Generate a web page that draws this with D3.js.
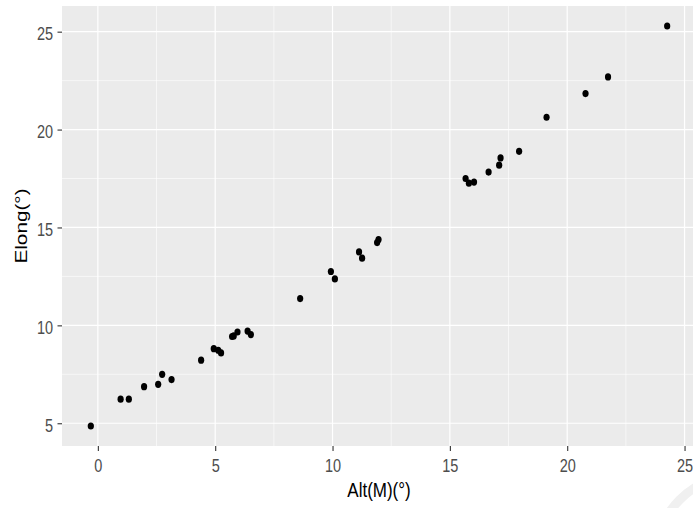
<!DOCTYPE html>
<html>
<head>
<meta charset="utf-8">
<script src="https://cdn.jsdelivr.net/npm/d3@7"></script>
<style>
    body { margin: 0; background: #ffffff; }
    text { font-family: "Liberation Sans", Arial, sans-serif; }
</style>
</head>
<body>
<div id="content"></div>
<script>
/*
    Data: altitude of the moon vs elongation
*/
var altM = [-0.30, 0.97, 1.32, 1.97, 2.57, 2.74, 3.14, 4.40, 4.94, 5.13,
            5.25, 5.72, 5.79, 5.95, 6.38, 6.52, 8.62, 9.93, 10.10, 11.13,
            11.26, 11.90, 11.96, 15.67, 15.81, 16.03, 16.65, 17.10, 17.16, 17.95,
            19.12, 20.78, 21.74, 24.26];
var elong = [4.86, 6.23, 6.23, 6.87, 6.99, 7.50, 7.23, 8.22, 8.81, 8.73,
             8.59, 9.43, 9.46, 9.66, 9.71, 9.53, 11.37, 12.75, 12.37, 13.75,
             13.43, 14.23, 14.38, 17.50, 17.26, 17.32, 17.83, 18.18, 18.55, 18.89,
             20.63, 21.84, 22.69, 25.29];
var xTicks = [0, 5, 10, 15, 20, 25];
var yTicks = [5, 10, 15, 20, 25];
var xMinor = [2.5, 7.5, 12.5, 17.5, 22.5];
var yMinor = [7.5, 12.5, 17.5, 22.5];
var xTitle = "Alt(M)(°)",
    yTitle = "Elong(°)";
/*
    Dimensions (the screenshot is stretched vertically, so text gets a yStretch)
*/
var realW = 693, realH = 508,
    margin = { top: 6, right: -3, bottom: 62, left: 62 },
    yStretch = 1.22;

var dataset = altM.map(function (d, i) { return [d, elong[i]]; });

/*
    ggplot style 5% expansion on both scales
*/
function expand(ext) {
    var pad = (ext[1] - ext[0]) * 0.05;
    return [ext[0] - pad, ext[1] + pad];
}

var xScale = d3.scaleLinear()
    .domain(expand(d3.extent(altM)))
    .range([margin.left, realW - margin.right]);

var yScale = d3.scaleLinear()
    .domain(expand(d3.extent(elong)))
    .range([realH - margin.bottom, margin.top]);

var svg = d3.select("#content")
    .append("svg")
    .attr("width", realW)
    .attr("height", realH);

svg.append("rect")
    .attr("width", realW)
    .attr("height", realH)
    .style("fill", "#ffffff");

/*
    Faint watermark arc in the bottom right corner
*/
svg.append("circle")
    .attr("cx", 742)
    .attr("cy", 562)
    .attr("r", 88)
    .style("fill", "none")
    .style("stroke", "#f0f0f0")
    .style("stroke-width", 9);

/*
    Panel background and grid
*/
var panel = svg.append("g").attr("id", "panel");

panel.append("rect")
    .attr("x", xScale.range()[0])
    .attr("y", yScale.range()[1])
    .attr("width", xScale.range()[1] - xScale.range()[0])
    .attr("height", yScale.range()[0] - yScale.range()[1])
    .style("fill", "#ebebeb");

panel.selectAll(".xminor")
    .data(xMinor)
    .enter()
    .append("line")
    .attr("x1", function (d) { return xScale(d); })
    .attr("x2", function (d) { return xScale(d); })
    .attr("y1", yScale.range()[0])
    .attr("y2", yScale.range()[1])
    .style("stroke", "#ffffff")
    .style("stroke-width", 0.6);

panel.selectAll(".yminor")
    .data(yMinor)
    .enter()
    .append("line")
    .attr("x1", xScale.range()[0])
    .attr("x2", xScale.range()[1])
    .attr("y1", function (d) { return yScale(d); })
    .attr("y2", function (d) { return yScale(d); })
    .style("stroke", "#ffffff")
    .style("stroke-width", 0.6);

panel.selectAll(".xmajor")
    .data(xTicks)
    .enter()
    .append("line")
    .attr("x1", function (d) { return xScale(d); })
    .attr("x2", function (d) { return xScale(d); })
    .attr("y1", yScale.range()[0])
    .attr("y2", yScale.range()[1])
    .style("stroke", "#ffffff")
    .style("stroke-width", 1.2);

panel.selectAll(".ymajor")
    .data(yTicks)
    .enter()
    .append("line")
    .attr("x1", xScale.range()[0])
    .attr("x2", xScale.range()[1])
    .attr("y1", function (d) { return yScale(d); })
    .attr("y2", function (d) { return yScale(d); })
    .style("stroke", "#ffffff")
    .style("stroke-width", 1.2);

/*
    Points
*/
svg.append("g")
    .attr("id", "points")
    .selectAll("ellipse")
    .data(dataset)
    .enter()
    .append("ellipse")
    .attr("cx", function (d) { return xScale(d[0]); })
    .attr("cy", function (d) { return yScale(d[1]); })
    .attr("rx", 3.1)
    .attr("ry", 3.6)
    .style("fill", "#000000");

/*
    Axes: d3 axes for the tick marks, labels restyled to look like ggplot
*/
var xAxis = d3.axisBottom(xScale)
    .tickValues(xTicks)
    .tickSize(5)
    .tickPadding(0)
    .tickFormat(d3.format("d"));

var yAxis = d3.axisLeft(yScale)
    .tickValues(yTicks)
    .tickSize(4.5)
    .tickPadding(0)
    .tickFormat(d3.format("d"));

var gx = svg.append("g")
    .attr("id", "xAxis")
    .attr("transform", "translate(0," + yScale.range()[0] + ")")
    .call(xAxis);

var gy = svg.append("g")
    .attr("id", "yAxis")
    .attr("transform", "translate(" + xScale.range()[0] + ",0)")
    .call(yAxis);

[gx, gy].forEach(function (g) {
    g.select(".domain").remove();
    g.selectAll(".tick line")
        .style("stroke", "#333333")
        .style("stroke-width", 1.1);
    g.selectAll(".tick text")
        .attr("font-size", 14.5)
        .attr("font-family", null)
        .style("fill", "#4d4d4d");
});

gx.selectAll(".tick text")
    .attr("dy", null)
    .attr("y", null)
    .attr("transform", "translate(0,25.5) scale(1," + yStretch + ")");

gy.selectAll(".tick text")
    .attr("dy", null)
    .attr("x", null)
    .attr("transform", "translate(-9,8) scale(1," + yStretch + ")");

/*
    Axis titles
*/
svg.append("text")
    .attr("transform", "translate(" + ((xScale.range()[0] + xScale.range()[1]) / 2) + ",497) scale(1," + yStretch + ")")
    .attr("text-anchor", "middle")
    .attr("font-size", 17)
    .style("fill", "#000000")
    .text(xTitle);

svg.append("text")
    .attr("transform", "translate(26.5," + ((yScale.range()[0] + yScale.range()[1]) / 2) + ") rotate(-90) scale(" + yStretch + ",1)")
    .attr("text-anchor", "middle")
    .attr("font-size", 17)
    .style("fill", "#000000")
    .text(yTitle);
</script>
</body>
</html>
